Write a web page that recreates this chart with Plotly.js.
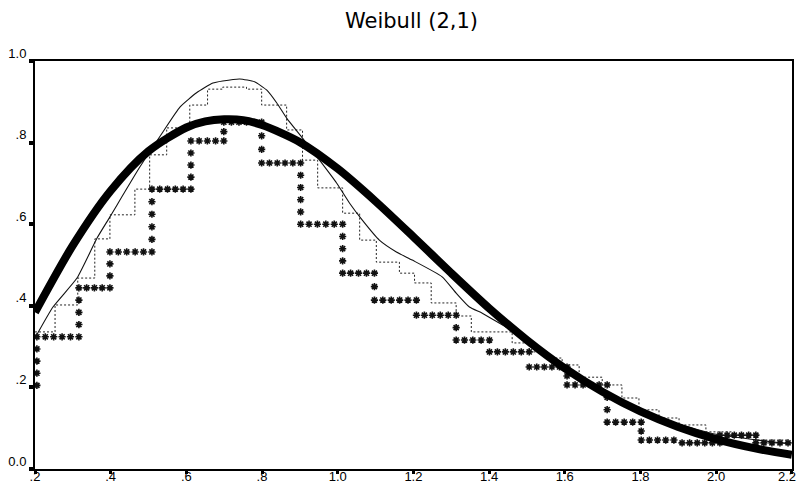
<!DOCTYPE html>
<html>
<head>
<meta charset="utf-8">
<script src="https://cdn.plot.ly/plotly-3.0.1.min.js"></script>
<style>html,body{margin:0;padding:0;background:#fff;}#chart{width:799px;height:485px;}</style>
</head>
<body>
<div id="chart"></div>
<script>
// Theoretical Weibull(2,1) density (thick line)
const thickX = [0.2,0.3,0.4,0.5,0.6,0.65,0.7,0.75,0.8,0.9,1.0,1.1,1.2,1.3,1.4,1.5,1.6,1.7,1.8,1.9,2.0,2.1,2.2];
const thickY = [0.384,0.548,0.682,0.779,0.837,0.852,0.857,0.855,0.843,0.801,0.736,0.656,0.569,0.480,0.394,0.316,0.247,0.189,0.141,0.103,0.073,0.051,0.035];

// Thin smooth estimate
const thinX = [0.2,0.2475,0.311,0.364,0.398,0.477,0.538,0.583,0.627,0.670,0.696,0.741,0.780,0.812,0.839,0.865,0.907,0.952,0.997,1.031,1.065,1.110,1.155,1.197,1.276,1.313,1.348,1.382,1.445,1.5,1.6,1.7,1.8,1.9,2.0,2.1,2.19];
const thinY = [0.321,0.397,0.468,0.566,0.618,0.740,0.826,0.887,0.922,0.946,0.951,0.956,0.949,0.929,0.897,0.860,0.811,0.757,0.701,0.652,0.610,0.561,0.532,0.512,0.471,0.431,0.397,0.382,0.348,0.318,0.250,0.193,0.146,0.110,0.085,0.072,0.062];

// Dotted fine step estimate: bin edges and levels
const dotEdges = [0.2,0.253,0.313,0.358,0.398,0.464,0.503,0.548,0.609,0.656,0.696,0.759,0.799,0.865,0.907,0.947,1.013,1.058,1.102,1.163,1.203,1.247,1.313,1.353,1.461,1.506,1.554,1.593,1.638,1.699,1.751,1.796,1.849,1.902,1.973,2.042,2.105,2.19];
const dotLevels = [0.336,0.402,0.468,0.564,0.623,0.686,0.770,0.836,0.892,0.931,0.936,0.931,0.892,0.831,0.757,0.689,0.627,0.561,0.507,0.480,0.456,0.407,0.375,0.336,0.309,0.287,0.272,0.255,0.225,0.206,0.174,0.145,0.125,0.108,0.091,0.083,0.071];

// Asterisk coarse step estimate
const astStartY = 0.205;
const astEdges = [0.205,0.316,0.398,0.509,0.612,0.699,0.799,0.902,1.013,1.097,1.208,1.313,1.401,1.506,1.606,1.712,1.802,1.910,2.010,2.105,2.19];
const astLevels = [0.324,0.444,0.532,0.686,0.804,0.850,0.750,0.600,0.480,0.414,0.377,0.316,0.287,0.250,0.206,0.115,0.071,0.064,0.083,0.064];

// Tick labels
const xTickVals = [0.2,0.4,0.6,0.8,1.0,1.2,1.4,1.6,1.8,2.0,2.2];
const xTickText = ['.2','.4','.6','.8','1.0','1.2','1.4','1.6','1.8','2.0','2.2'];
const yTickVals = [0,0.2,0.4,0.6,0.8,1.0];
const yTickText = ['0.0','.2','.4','.6','.8','1.0'];

// last x label sits at the right edge of the page: drawn right-aligned as an annotation
const lastI = xTickText.length - 1;
const xTickShown = xTickText.map((t,i) => i === lastI ? '' : t);

// build step path for dotted series
const dotX = dotEdges.slice();
const dotY = dotLevels.concat([dotLevels[dotLevels.length-1]]);

// asterisk markers placed along the step path
const dxStep = 0.021, dyStep = 0.029;
const astX = [], astY = [];
(function(){
  let m = Math.round(Math.abs(astLevels[0]-astStartY)/dyStep);
  for (let k=0;k<m;k++){ astX.push(astEdges[0]); astY.push(astStartY+(astLevels[0]-astStartY)*k/m); }
  for (let i=0;i<astLevels.length;i++){
    const x0=astEdges[i], x1=astEdges[i+1], y=astLevels[i];
    const n=Math.max(1,Math.round((x1-x0)/dxStep));
    for (let k=0;k<n;k++){ astX.push(x0+(x1-x0)*k/n); astY.push(y); }
    if (i+1<astLevels.length){
      const yn=astLevels[i+1];
      const mm=Math.round(Math.abs(yn-y)/dyStep);
      for (let k=0;k<mm;k++){ astX.push(x1); astY.push(y+(yn-y)*k/mm); }
    } else { astX.push(x1); astY.push(y); }
  }
})();

const traces = [
  {x: dotX, y: dotY, mode:'lines', line:{shape:'hv', color:'#222', width:1, dash:'2px,2px'}, hoverinfo:'skip'},
  {x: astX, y: astY, mode:'markers', marker:{symbol:'asterisk-open', size:6, color:'#111', line:{width:1.6, color:'#111'}}, hoverinfo:'skip'},
  {x: thinX, y: thinY, mode:'lines', line:{shape:'spline', smoothing:0.5, color:'#111', width:1.1}, hoverinfo:'skip'},
  {x: thickX, y: thickY, mode:'lines', line:{shape:'spline', smoothing:0.8, color:'#000', width:8}, hoverinfo:'skip'}
];

const layout = {
  width: 799, height: 485,
  margin: {l:35, r:7, t:61, b:16, pad:0},
  paper_bgcolor:'#fff', plot_bgcolor:'#fff',
  showlegend:false,
  title: {text:'Weibull (2,1)', x:0.515, xanchor:'center', y:0.957, yanchor:'middle', font:{family:'DejaVu Sans, Liberation Sans, Arial', size:21, color:'#000'}},
  font: {family:'Liberation Sans, Arial, sans-serif', size:13, color:'#000'},
  xaxis: {range:[0.2,2.2005], tickvals:xTickVals, ticktext:xTickShown, showgrid:false, zeroline:false,
          showline:true, mirror:true, linecolor:'#000', linewidth:2, ticks:'outside', ticklen:3, tickwidth:3, tickcolor:'#000',
          ticklabelstandoff:-9, tickfont:{size:13, family:'Liberation Sans, Arial'}},
  yaxis: {range:[0,1], tickvals:yTickVals, ticktext:yTickText, showgrid:false, zeroline:false,
          showline:true, mirror:true, linecolor:'#000', linewidth:2, ticks:'outside', ticklen:4, tickwidth:4, tickcolor:'#000',
          ticklabelshift:-8, tickfont:{size:13, family:'Liberation Sans, Arial'}},
  annotations: [{
    text: xTickText[lastI], x: xTickVals[lastI], xref:'x', xanchor:'right', xshift:6,
    y: 0, yref:'paper', yanchor:'top', yshift:2, showarrow:false,
    font:{size:13, family:'Liberation Sans, Arial', color:'#000'}
  }]
};

Plotly.newPlot('chart', traces, layout, {staticPlot:true, displayModeBar:false});
</script>
</body>
</html>
